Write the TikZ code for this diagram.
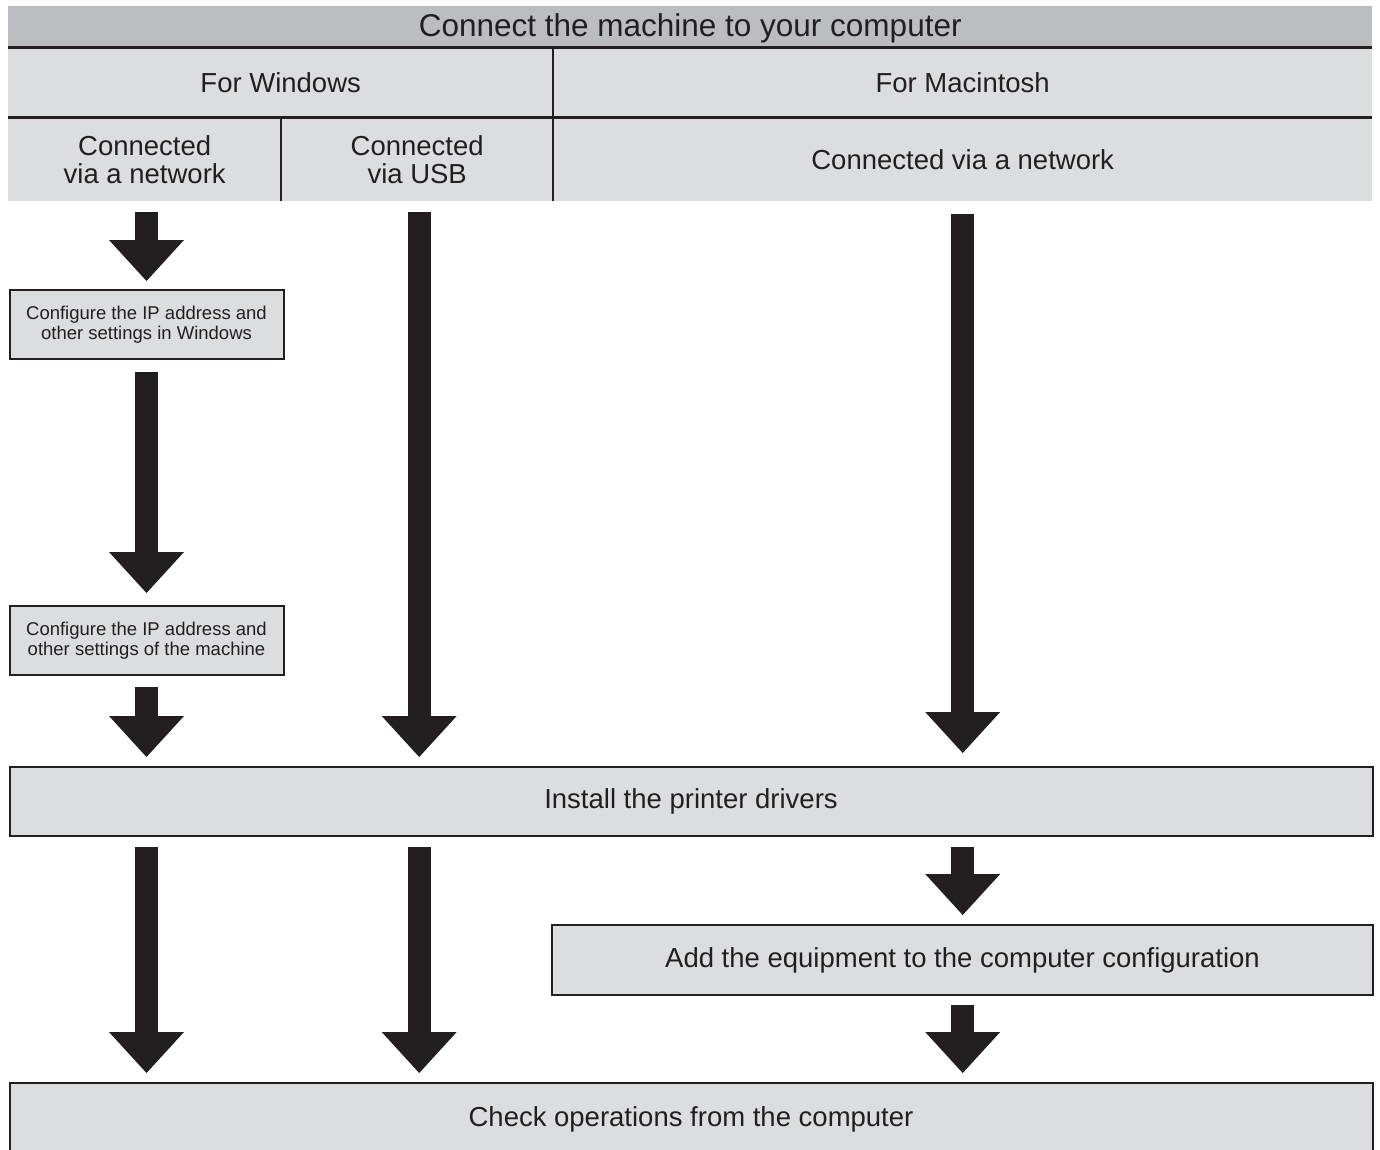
\documentclass[tikz,border=0pt]{standalone}
\usepackage{fontspec}
\setmainfont{Liberation Sans}
\usetikzlibrary{arrows.meta,calc}
\definecolor{hdr}{HTML}{BCBDC0}
\definecolor{cell}{HTML}{DCDDDF}
\definecolor{ink}{HTML}{231F20}
\begin{document}
\begin{tikzpicture}[x=1pt,y=-1pt,
  cellbox/.style={fill=cell, draw=none, inner sep=0pt, anchor=north west, align=center, text=ink},
  stepbox/.style={fill=cell, draw=ink, line width=2pt, inner sep=0pt, anchor=north west, align=center, text=ink},
  bigarrow/.style={draw=ink, line width=23pt, -{Triangle[width=75pt,length=41pt,line width=0pt]}},
  rule/.style={draw=ink, line width=2.6pt},
  vrule/.style={draw=ink, line width=2pt},
  titlefont/.style={font=\fontsize{31.5}{33}\selectfont},
  mainfont/.style={font=\fontsize{27.5}{28}\selectfont},
  smallfont/.style={font=\fontsize{18.5}{19.5}\selectfont}
]
\clip (0,0) rectangle (1380,1149);
\fill[white] (0,0) rectangle (1380,1149);

% header table
\node[cellbox, fill=hdr, minimum width=1364pt, minimum height=41pt, text height=22pt, text depth=2pt, titlefont] (title) at (8,6) {Connect the machine to your computer};
\node[cellbox, minimum width=545pt, minimum height=70pt, mainfont] (win) at (8,47) {For Windows};
\node[cellbox, minimum width=819pt, minimum height=70pt, mainfont] (mac) at (553,47) {For Macintosh};
\node[cellbox, minimum width=273pt, minimum height=84pt, mainfont] (wnet) at (8,117) {Connected\\via a network};
\node[cellbox, minimum width=272pt, minimum height=84pt, mainfont] (wusb) at (281,117) {Connected\\via USB};
\node[cellbox, minimum width=819pt, minimum height=84pt, mainfont] (mnet) at (553,117) {Connected via a network};

\draw[rule] (title.south west) -- (title.south east);
\draw[rule] (win.south west) -- (mac.south east);
\draw[vrule] (mac.north west) -- (mnet.south west);
\draw[vrule] (wusb.north west) -- (wusb.south west);

% step boxes
\node[stepbox, minimum width=274pt, minimum height=69pt, smallfont] (cfgwin) at (8.5,289) {Configure the IP address and\\other settings in Windows};
\node[stepbox, minimum width=274pt, minimum height=69pt, smallfont] (cfgmach) at (8.5,605) {Configure the IP address and\\other settings of the machine};
\node[stepbox, minimum width=1363pt, minimum height=69pt, mainfont] (install) at (8.5,766) {Install the printer drivers};
\node[stepbox, minimum width=821pt, minimum height=70pt, mainfont] (add) at (551,924) {Add the equipment to the computer configuration};
\node[stepbox, minimum width=1363pt, minimum height=73pt, mainfont] (check) at (8.5,1082) {Check operations from the computer};

% arrows
\draw[bigarrow] ($(cfgwin.north |- wnet.south)+(0,11)$) -- ($(cfgwin.north)+(0,-8)$);
\draw[bigarrow] ($(cfgwin.south)+(0,12)$) -- ($(cfgmach.north)+(0,-12)$);
\draw[bigarrow] ($(cfgmach.south)+(0,11)$) -- ($(cfgmach.south |- install.north)+(0,-9)$);
\draw[bigarrow] ($(wusb.south)+(2,11)$) -- ($(wusb.south |- install.north)+(2,-9)$);
\draw[bigarrow] ($(mnet.south)+(0,13)$) -- ($(mnet.south |- install.north)+(0,-13)$);

\draw[bigarrow] ($(install.south -| cfgwin.south)+(0,10)$) -- ($(cfgwin.south |- check.north)+(0,-9)$);
\draw[bigarrow] ($(install.south -| wusb.south)+(2,10)$) -- ($(wusb.south |- check.north)+(2,-9)$);
\draw[bigarrow] ($(install.south -| mnet.south)+(0,10)$) -- ($(mnet.south |- add.north)+(0,-9)$);
\draw[bigarrow] ($(add.south -| mnet.south)+(0,9)$) -- ($(mnet.south |- check.north)+(0,-9)$);
\end{tikzpicture}
\end{document}
